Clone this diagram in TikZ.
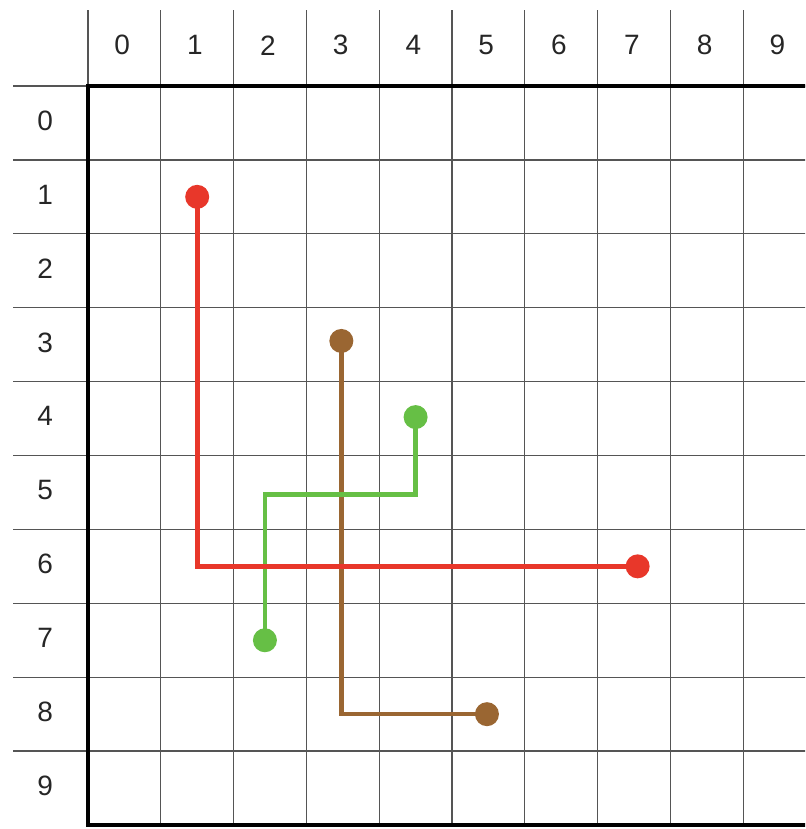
\documentclass[tikz,border=0pt]{standalone}
\usepackage{fontspec}
\setmainfont{Liberation Sans}
\definecolor{pred}{HTML}{E8372A}
\definecolor{pbrown}{HTML}{9A6632}
\definecolor{pgreen}{HTML}{66BF45}
\definecolor{gridgray}{HTML}{555555}
\tikzset{
  thin grid/.style={draw=gridgray, line width=1.3pt},
  thick border/.style={draw=black, line width=3.8pt},
  lbl/.style={font=\fontsize{28}{28}\selectfont, inner sep=0pt, text=black!85},
  route/.style={line width=4.6pt},
  dot/.style={circle, fill=#1, draw=none, minimum size=24pt, inner sep=0pt}
}
\begin{document}
\begin{tikzpicture}[x=72.8pt, y=-73.9pt]
\useasboundingbox (-1.2088,-1.1637) rectangle (9.849,10.054);
\clip (-1.2088,-1.1637) rectangle (9.849,10.054);
% thin grid lines
\foreach \i in {0,...,10} {
  \draw[thin grid] (\i,-1.028) -- (\i,10);
}
\foreach \j in {0,...,9} {
  \draw[thin grid] (-1.03,\j) -- (10.5,\j);
}
% thick border
\draw[thick border, line cap=rect] (0,10) -- (0,0) -- (10.5,0);
\draw[thick border] (0,10) -- (10.5,10);
% labels
\foreach \i in {0,...,9} {
  \node[lbl] (c\i) at (\i+0.47,-0.55) {\i};
  \node[lbl] (r\i) at (-0.59,\i+0.47) {\i};
}
% endpoints
\coordinate (ra) at (1.5,1.5);
\coordinate (rb) at (7.55,6.5);
\coordinate (ba) at (3.48,3.45);
\coordinate (bb) at (5.48,8.5);
\coordinate (ga) at (4.5,4.48);
\coordinate (gb) at (2.43,7.5);
\coordinate (gc) at (4.5,5.53);
% routes
\draw[route, pbrown] (ba) |- (bb);
\draw[route, pgreen] (ga) -- (gc) -| (gb);
\draw[route, pred] (ra) |- (rb);
% dots
\node[dot=pbrown] (B1) at (ba) {};
\node[dot=pbrown] (B2) at (bb) {};
\node[dot=pgreen] (G1) at (ga) {};
\node[dot=pgreen] (G2) at (gb) {};
\node[dot=pred] (R1) at (ra) {};
\node[dot=pred] (R2) at (rb) {};
\end{tikzpicture}
\end{document}
